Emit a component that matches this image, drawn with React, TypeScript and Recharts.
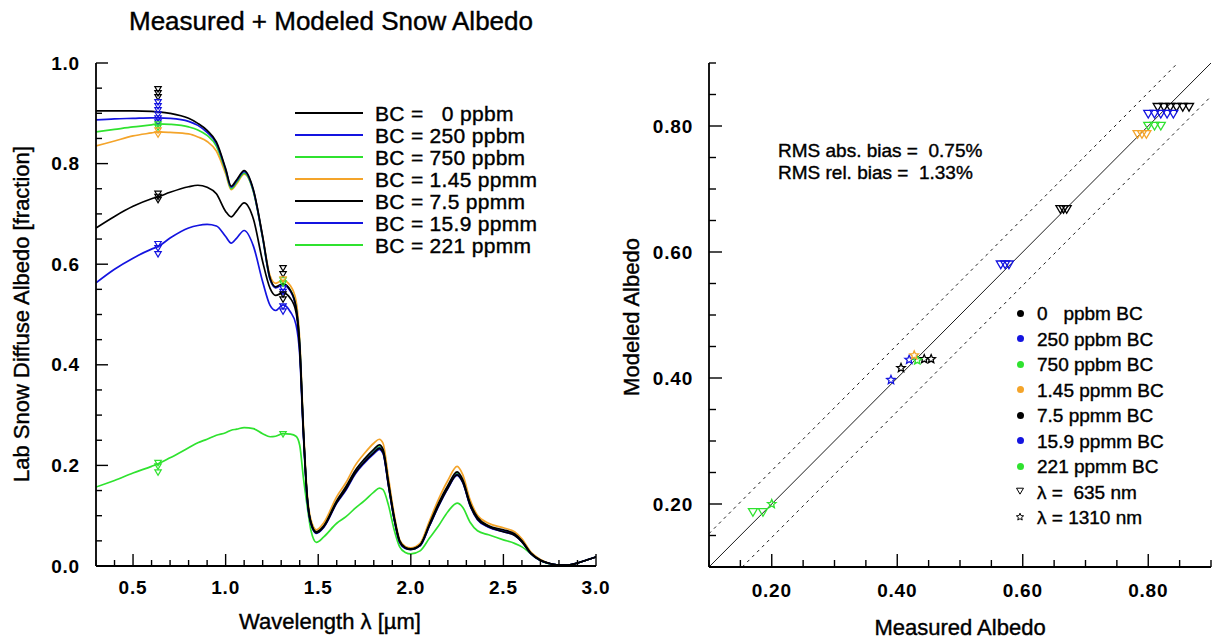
import React from "react";
import { ComposedChart, Line, Scatter, XAxis, YAxis, ReferenceLine } from "recharts";

const FONT = "'Liberation Sans', Arial, Helvetica, sans-serif";
const BLACK = "#000000";
const BLUE = "#1414e0";
const GREEN = "#2fe22f";
const ORANGE = "#f4a42a";

// wavelength grid [µm]
const wavelengths = [
  0.3, 0.4, 0.5, 0.6, 0.635, 0.7, 0.8, 0.85, 0.9, 0.95, 1.0, 1.03, 1.06, 1.1, 1.15, 1.2, 1.24, 1.27, 1.31, 1.35,
  1.38, 1.4, 1.42, 1.44, 1.46, 1.49, 1.53, 1.6, 1.65, 1.7, 1.75, 1.8, 1.83, 1.85, 1.88, 1.91, 1.94, 1.97, 2.0,
  2.05, 2.1, 2.15, 2.2, 2.25, 2.28, 2.32, 2.36, 2.42, 2.5, 2.56, 2.6, 2.65, 2.7, 2.75, 2.8, 2.85, 2.9, 2.95, 3.0,
];

const albedoBC0 = [
  0.905, 0.905, 0.905, 0.904, 0.903, 0.9, 0.89, 0.88, 0.866, 0.843, 0.79, 0.755, 0.768, 0.786, 0.748, 0.655, 0.572,
  0.555, 0.561, 0.548, 0.515, 0.44, 0.27, 0.14, 0.088, 0.068, 0.08, 0.13, 0.158, 0.19, 0.213, 0.232, 0.241, 0.232,
  0.165, 0.098, 0.05, 0.037, 0.034, 0.042, 0.083, 0.125, 0.16, 0.187, 0.172, 0.125, 0.097, 0.08, 0.072, 0.064, 0.05,
  0.025, 0.012, 0.005, 0.002, 0.002, 0.006, 0.012, 0.018,
];
const albedoBC250 = [
  0.887, 0.889, 0.89, 0.891, 0.891, 0.89, 0.884, 0.876, 0.862, 0.84, 0.788, 0.753, 0.766, 0.784, 0.746, 0.653, 0.57,
  0.553, 0.559, 0.546, 0.513, 0.438, 0.268, 0.138, 0.086, 0.066, 0.078, 0.127, 0.154, 0.186, 0.208, 0.226, 0.235,
  0.227, 0.16, 0.094, 0.048, 0.036, 0.033, 0.041, 0.08, 0.121, 0.156, 0.182, 0.168, 0.122, 0.094, 0.078, 0.069,
  0.062, 0.049, 0.024, 0.011, 0.005, 0.002, 0.002, 0.006, 0.012, 0.018,
];
const albedoBC750 = [
  0.863, 0.868, 0.873, 0.877, 0.879, 0.878, 0.873, 0.867, 0.856, 0.835, 0.785, 0.75, 0.763, 0.781, 0.744, 0.652, 0.57,
  0.554, 0.561, 0.548, 0.515, 0.44, 0.268, 0.139, 0.087, 0.067, 0.079, 0.128, 0.155, 0.187, 0.209, 0.228, 0.237,
  0.229, 0.161, 0.095, 0.048, 0.036, 0.033, 0.041, 0.081, 0.122, 0.157, 0.184, 0.169, 0.123, 0.095, 0.079, 0.07,
  0.062, 0.049, 0.024, 0.011, 0.005, 0.002, 0.002, 0.006, 0.012, 0.018,
];
const albedoBC1450 = [
  0.835, 0.845, 0.855, 0.861, 0.863, 0.862, 0.859, 0.853, 0.844, 0.825, 0.78, 0.748, 0.76, 0.779, 0.745, 0.655, 0.577,
  0.562, 0.568, 0.557, 0.528, 0.45, 0.28, 0.146, 0.093, 0.072, 0.086, 0.138, 0.166, 0.2, 0.224, 0.244, 0.252, 0.244,
  0.174, 0.103, 0.052, 0.039, 0.036, 0.045, 0.089, 0.133, 0.17, 0.198, 0.182, 0.132, 0.101, 0.085, 0.076, 0.068,
  0.054, 0.027, 0.013, 0.005, 0.002, 0.002, 0.006, 0.012, 0.018,
];
const albedoBC7500 = [
  0.672, 0.695, 0.715, 0.73, 0.734, 0.743, 0.754, 0.757, 0.753, 0.74, 0.705, 0.694, 0.706, 0.722, 0.69, 0.605, 0.552,
  0.538, 0.543, 0.532, 0.505, 0.43, 0.265, 0.137, 0.086, 0.066, 0.078, 0.126, 0.153, 0.185, 0.207, 0.225, 0.234,
  0.226, 0.159, 0.094, 0.048, 0.036, 0.033, 0.041, 0.08, 0.12, 0.155, 0.181, 0.167, 0.121, 0.093, 0.078, 0.068,
  0.061, 0.048, 0.024, 0.011, 0.005, 0.002, 0.002, 0.006, 0.012, 0.018,
];
const albedoBC15900 = [
  0.563, 0.59, 0.612, 0.63, 0.635, 0.652, 0.672, 0.677, 0.679, 0.676, 0.655, 0.642, 0.652, 0.667, 0.636, 0.565, 0.518,
  0.508, 0.519, 0.505, 0.48, 0.42, 0.26, 0.135, 0.085, 0.065, 0.077, 0.125, 0.151, 0.183, 0.205, 0.223, 0.232, 0.224,
  0.158, 0.093, 0.047, 0.035, 0.033, 0.04, 0.079, 0.119, 0.154, 0.18, 0.166, 0.12, 0.092, 0.077, 0.068, 0.061, 0.048,
  0.024, 0.011, 0.005, 0.002, 0.002, 0.006, 0.012, 0.018,
];
const albedoBC221000 = [
  0.157, 0.17, 0.185, 0.198, 0.203, 0.215, 0.235, 0.245, 0.252, 0.26, 0.265, 0.27, 0.272, 0.275, 0.273, 0.263, 0.257,
  0.258, 0.263, 0.262, 0.258, 0.24, 0.175, 0.12, 0.072, 0.047, 0.058, 0.085, 0.098, 0.115, 0.13, 0.147, 0.155, 0.152,
  0.12, 0.072, 0.038, 0.027, 0.024, 0.03, 0.055, 0.08, 0.108, 0.125, 0.117, 0.087, 0.07, 0.062, 0.052, 0.045, 0.038,
  0.024, 0.011, 0.004, 0.001, null, null, null, null,
];

const legendNames = [
  "BC =   0 ppbm",
  "BC = 250 ppbm",
  "BC = 750 ppbm",
  "BC = 1.45 ppmm",
  "BC = 7.5 ppmm",
  "BC = 15.9 ppmm",
  "BC = 221 ppmm",
];
const levelColors = [BLACK, BLUE, GREEN, ORANGE, BLACK, BLUE, GREEN];
const spectra = [albedoBC0, albedoBC250, albedoBC750, albedoBC1450, albedoBC7500, albedoBC15900, albedoBC221000];

// measured albedo markers on the spectra (at 635 and 1310 nm)
const labMeasured635 = [
  [0.948, 0.94, 0.932],
  [0.922, 0.914, 0.906, 0.898, 0.89, 0.882],
  [0.878, 0.872],
  [0.866, 0.858],
  [0.74, 0.734, 0.728],
  [0.64, 0.632, 0.62],
  [0.205, 0.198, 0.186],
];
const labMeasured1310 = [
  [0.592, 0.58],
  [0.552, 0.545],
  [0.568, 0.562],
  [0.57],
  [0.54, 0.53],
  [0.516, 0.506],
  [0.262],
];

// measured vs modeled (right panel)
const scatterNames = [
  "0   ppbm BC",
  "250 ppbm BC",
  "750 ppbm BC",
  "1.45 ppmm BC",
  "7.5 ppmm BC",
  "15.9 ppmm BC",
  "221 ppmm BC",
];
const measured635 = [
  [0.815, 0.825, 0.835, 0.845, 0.855, 0.865],
  [0.8, 0.81, 0.82, 0.83, 0.84],
  [0.8, 0.81, 0.82],
  [0.783, 0.79, 0.797],
  [0.66, 0.665, 0.67],
  [0.565, 0.572, 0.578],
  [0.17, 0.186],
];
const modeled635 = [0.83, 0.819, 0.8, 0.787, 0.668, 0.58, 0.187];
const measured1310 = [[0.443, 0.454], [0.419], [0.432], [0.427], [0.406], [0.39], [0.2]];
const modeled1310 = [0.43, 0.429, 0.428, 0.436, 0.416, 0.397, 0.2];

const leftXTicks = [
  0.3, 0.4, 0.5, 0.6, 0.7, 0.8, 0.9, 1.0, 1.1, 1.2, 1.3, 1.4, 1.5, 1.6, 1.7, 1.8, 1.9, 2.0, 2.1, 2.2, 2.3, 2.4, 2.5,
  2.6, 2.7, 2.8, 2.9, 3.0,
];
const leftXMajor = [0.5, 1.0, 1.5, 2.0, 2.5, 3.0];
const leftYTicks = [
  0, 0.05, 0.1, 0.15, 0.2, 0.25, 0.3, 0.35, 0.4, 0.45, 0.5, 0.55, 0.6, 0.65, 0.7, 0.75, 0.8, 0.85, 0.9, 0.95, 1.0,
];
const leftYMajor = [0, 0.2, 0.4, 0.6, 0.8, 1.0];
const rightTicks = [0.1, 0.15, 0.2, 0.25, 0.3, 0.35, 0.4, 0.45, 0.5, 0.55, 0.6, 0.65, 0.7, 0.75, 0.8, 0.85, 0.9];
const rightMajor = [0.2, 0.4, 0.6, 0.8];

const isMajor = (list: number[], v: number) => list.some((m) => Math.abs(m - v) < 1e-6);

const triPath = (cx: number, cy: number, s: number) =>
  `M${cx - s},${cy - s * 0.8}L${cx + s},${cy - s * 0.8}L${cx},${cy + s * 0.9}Z`;
const starPath = (cx: number, cy: number, r: number) => {
  let d = "";
  for (let i = 0; i < 10; i++) {
    const rad = i % 2 === 0 ? r : r * 0.45;
    const a = -Math.PI / 2 + (i * Math.PI) / 5;
    d += (i === 0 ? "M" : "L") + (cx + rad * Math.cos(a)).toFixed(2) + "," + (cy + rad * Math.sin(a)).toFixed(2);
  }
  return d + "Z";
};

const makeTick =
  (side: "bottom" | "top" | "left" | "right", major: number[], digits: number | null, majorLen: number, minorLen: number, gap: number) =>
  (props: any) => {
    const { x, y, payload } = props;
    const v = payload.value as number;
    const big = isMajor(major, v);
    const len = big ? majorLen : minorLen;
    let line;
    if (side === "bottom") line = <line x1={x} y1={y} x2={x} y2={y - len} />;
    else if (side === "top") line = <line x1={x} y1={y} x2={x} y2={y + len} />;
    else if (side === "left") line = <line x1={x} y1={y} x2={x + len} y2={y} />;
    else line = <line x1={x} y1={y} x2={x - len} y2={y} />;
    const showLabel = big && digits !== null;
    return (
      <g>
        <g stroke="#000" strokeWidth={1.4}>{line}</g>
        {showLabel && (
          <text
            x={side === "left" ? x - gap : x}
            y={side === "bottom" ? y + gap : y}
            textAnchor={side === "left" ? "end" : "middle"}
            dominantBaseline="central"
            fontFamily={FONT}
            fontWeight="bold"
            fontSize={19}
            letterSpacing={0.8}
            fill="#000"
          >
            {v.toFixed(digits as number)}
          </text>
        )}
      </g>
    );
  };

const txt = (extra: React.CSSProperties): React.CSSProperties => ({
  position: "absolute",
  whiteSpace: "pre",
  lineHeight: 1,
  fontFamily: FONT,
  color: "#000",
  WebkitTextStroke: "0.4px #000",
  ...extra,
});

const axisLine = { stroke: "#000", strokeWidth: 1.8 };

export default function App() {
  const lineData = spectra.map((vals) => wavelengths.map((w, i) => ({ x: w, y: vals[i] })));
  const drawOrder = [6, 3, 2, 1, 5, 4, 0];

  return (
    <div style={{ position: "absolute", left: 0, top: 0, width: 1213, height: 644, background: "#fff", overflow: "hidden" }}>
      <div style={{ position: "absolute", left: 0, top: 0 }}>
        <ComposedChart width={620} height={644} margin={{ top: 63, right: 24, bottom: 0, left: 0 }}>
          <XAxis
            xAxisId={0}
            dataKey="x"
            type="number"
            domain={[0.3, 3.0]}
            ticks={leftXTicks}
            allowDataOverflow
            height={78}
            tickSize={0}
            tickMargin={0}
            tickLine={false}
            axisLine={axisLine}
            interval={0}
            tick={makeTick("bottom", leftXMajor, 1, 12, 6, 21)}
          />
          <XAxis
            xAxisId="top"
            orientation="top"
            type="number"
            domain={[0.3, 3.0]}
            ticks={leftXTicks}
            allowDataOverflow
            height={0}
            tickSize={0}
            tickMargin={0}
            tickLine={false}
            axisLine={axisLine}
            interval={0}
            tick={makeTick("top", leftXMajor, null, 12, 6, 0)}
          />
          <YAxis
            yAxisId={0}
            dataKey="y"
            type="number"
            domain={[0, 1]}
            ticks={leftYTicks}
            allowDataOverflow
            width={96}
            tickSize={0}
            tickMargin={0}
            tickLine={false}
            axisLine={axisLine}
            interval={0}
            tick={makeTick("left", leftYMajor, 1, 12, 6, 16)}
          />
          <YAxis
            yAxisId="right"
            orientation="right"
            type="number"
            domain={[0, 1]}
            ticks={leftYTicks}
            allowDataOverflow
            width={0}
            tickSize={0}
            tickMargin={0}
            tickLine={false}
            axisLine={axisLine}
            interval={0}
            tick={makeTick("right", leftYMajor, null, 12, 6, 0)}
          />
          {drawOrder.map((k) => (
            <Line
              key={"l" + k}
              data={lineData[k]}
              dataKey="y"
              type="monotone"
              stroke={levelColors[k]}
              strokeWidth={1.7}
              dot={false}
              connectNulls={false}
              isAnimationActive={false}
            />
          ))}
          {labMeasured635.map((vals, k) => (
            <Scatter
              key={"m635" + k}
              data={vals.map((v) => ({ x: 0.635, y: v }))}
              isAnimationActive={false}
              shape={(p: any) => (
                <path d={triPath(p.cx, p.cy, 3.2)} fill="none" stroke={levelColors[k]} strokeWidth={1.2} />
              )}
            />
          ))}
          {labMeasured1310.map((vals, k) => (
            <Scatter
              key={"m1310" + k}
              data={vals.map((v) => ({ x: 1.31, y: v }))}
              isAnimationActive={false}
              shape={(p: any) => (
                <path d={triPath(p.cx, p.cy, 3.2)} fill="none" stroke={levelColors[k]} strokeWidth={1.2} />
              )}
            />
          ))}
        </ComposedChart>
      </div>

      <div style={{ position: "absolute", left: 600, top: 0 }}>
        <ComposedChart width={613} height={644} margin={{ top: 63, right: 2, bottom: 0, left: 0 }}>
          <XAxis
            xAxisId={0}
            dataKey="x"
            type="number"
            domain={[0.1, 0.9]}
            ticks={rightTicks}
            allowDataOverflow
            height={77}
            tickSize={0}
            tickMargin={0}
            tickLine={false}
            axisLine={axisLine}
            interval={0}
            tick={makeTick("bottom", rightMajor, 2, 13, 7, 23)}
          />
          <XAxis
            xAxisId="top"
            orientation="top"
            type="number"
            domain={[0.1, 0.9]}
            ticks={rightTicks}
            allowDataOverflow
            height={0}
            tickSize={0}
            tickMargin={0}
            tickLine={false}
            axisLine={axisLine}
            interval={0}
            tick={makeTick("top", rightMajor, null, 13, 7, 0)}
          />
          <YAxis
            yAxisId={0}
            dataKey="y"
            type="number"
            domain={[0.1, 0.9]}
            ticks={rightTicks}
            allowDataOverflow
            width={109}
            tickSize={0}
            tickMargin={0}
            tickLine={false}
            axisLine={axisLine}
            interval={0}
            tick={makeTick("left", rightMajor, 2, 13, 7, 16)}
          />
          <YAxis
            yAxisId="right"
            orientation="right"
            type="number"
            domain={[0.1, 0.9]}
            ticks={rightTicks}
            allowDataOverflow
            width={0}
            tickSize={0}
            tickMargin={0}
            tickLine={false}
            axisLine={axisLine}
            interval={0}
            tick={makeTick("right", rightMajor, null, 13, 7, 0)}
          />
          <ReferenceLine segment={[{ x: 0.1, y: 0.1 }, { x: 0.9, y: 0.9 }]} stroke="#000" strokeWidth={0.9} />
          <ReferenceLine
            segment={[{ x: 0.1, y: 0.153 }, { x: 0.847, y: 0.9 }]}
            stroke="#000"
            strokeWidth={0.9}
            strokeDasharray="3 4"
          />
          <ReferenceLine
            segment={[{ x: 0.153, y: 0.1 }, { x: 0.9, y: 0.847 }]}
            stroke="#000"
            strokeWidth={0.9}
            strokeDasharray="3 4"
          />
          {measured635.map((vals, k) => (
            <Scatter
              key={"t" + k}
              data={vals.map((v) => ({ x: v, y: modeled635[k] }))}
              isAnimationActive={false}
              shape={(p: any) => (
                <path d={triPath(p.cx, p.cy, 4.5)} fill="none" stroke={levelColors[k]} strokeWidth={1.3} />
              )}
            />
          ))}
          {measured1310.map((vals, k) => (
            <Scatter
              key={"s" + k}
              data={vals.map((v) => ({ x: v, y: modeled1310[k] }))}
              isAnimationActive={false}
              shape={(p: any) => (
                <path d={starPath(p.cx, p.cy, 4.5)} fill="none" stroke={levelColors[k]} strokeWidth={1.3} />
              )}
            />
          ))}
        </ComposedChart>
      </div>

      {/* left panel texts */}
      <div style={txt({ left: 331, top: 21, fontSize: 26, transform: "translate(-50%,-50%)" })}>
        Measured + Modeled Snow Albedo
      </div>
      <div style={txt({ left: 330, top: 622, fontSize: 22, transform: "translate(-50%,-50%)" })}>
        Wavelength λ [µm]
      </div>
      <div style={txt({ left: 22, top: 314, fontSize: 22, transform: "translate(-50%,-50%) rotate(-90deg)" })}>
        Lab Snow Diffuse Albedo [fraction]
      </div>
      {legendNames.map((name, k) => (
        <React.Fragment key={"lg" + k}>
          <div
            style={{
              position: "absolute",
              left: 295,
              top: 113 + k * 22 - 1,
              width: 68,
              height: 2,
              background: levelColors[k],
            }}
          />
          <div style={txt({ left: 375, top: 113 + k * 22, fontSize: 21, letterSpacing: 0.3, transform: "translateY(-50%)" })}>
            {name}
          </div>
        </React.Fragment>
      ))}

      {/* right panel texts */}
      <div style={txt({ left: 960, top: 628, fontSize: 22, transform: "translate(-50%,-50%)" })}>Measured Albedo</div>
      <div style={txt({ left: 632, top: 317, fontSize: 22, transform: "translate(-50%,-50%) rotate(-90deg)" })}>
        Modeled Albedo
      </div>
      <div style={txt({ left: 778, top: 150, fontSize: 19, transform: "translateY(-50%)" })}>RMS abs. bias =  0.75%</div>
      <div style={txt({ left: 778, top: 172, fontSize: 19, transform: "translateY(-50%)" })}>RMS rel. bias =  1.33%</div>
      {scatterNames.map((name, k) => (
        <React.Fragment key={"rl" + k}>
          <div
            style={{
              position: "absolute",
              left: 1017,
              top: 313 + k * 25.5 - 3.5,
              width: 7,
              height: 7,
              borderRadius: "50%",
              background: levelColors[k],
            }}
          />
          <div style={txt({ left: 1037, top: 313 + k * 25.5, fontSize: 19, transform: "translateY(-50%)" })}>{name}</div>
        </React.Fragment>
      ))}
      <svg style={{ position: "absolute", left: 1012, top: 483, overflow: "visible" }} width={16} height={40}>
        <path d={triPath(8, 8, 3.5)} fill="none" stroke="#000" strokeWidth={1} />
        <path d={starPath(8, 34, 3.8)} fill="none" stroke="#000" strokeWidth={1} />
      </svg>
      <div style={txt({ left: 1037, top: 491.5, fontSize: 19, transform: "translateY(-50%)" })}>λ =  635 nm</div>
      <div style={txt({ left: 1037, top: 517, fontSize: 19, transform: "translateY(-50%)" })}>λ = 1310 nm</div>
    </div>
  );
}
